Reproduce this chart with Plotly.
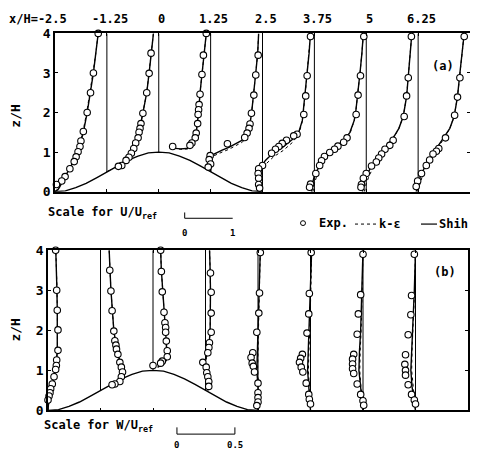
import plotly.graph_objects as go

# Stationen x/H und Beschriftung oben
stations = [-2.5, -1.25, 0, 1.25, 2.5, 3.75, 5, 6.25]
station_labels = ["x/H=-2.5", "-1.25", "0", "1.25", "2.5", "3.75", "5", "6.25"]

# Hügelkontur
hill_x = [-2.5, -2.25, -2.0, -1.75, -1.5, -1.25, -1.0, -0.75, -0.5, -0.25, 0,
          0.25, 0.5, 0.75, 1.0, 1.25, 1.5, 1.75, 2.0, 2.25, 2.5]
hill_z = [0, 0.02, 0.10, 0.21, 0.35, 0.50, 0.65, 0.79, 0.90, 0.98, 1.0,
          0.98, 0.90, 0.79, 0.65, 0.50, 0.35, 0.21, 0.10, 0.02, 0]

# (a) U/Uref - Messpunkte
u_exp_z = [
    [4.0, 3.0, 2.5, 2.0, 1.52, 1.28, 1.14, 1.01, 0.88, 0.76, 0.58, 0.38, 0.27, 0.18],
    [3.5, 2.99, 2.5, 1.98, 1.72, 1.6, 1.5, 1.36, 1.23, 1.09, 0.97, 0.87, 0.79, 0.66, 0.64],
    [4.0, 3.45, 2.96, 2.46, 2.2, 2.07, 1.95, 1.72, 1.48, 1.36, 1.23, 1.17, 1.14],
    [3.45, 2.95, 2.44, 1.98, 1.71, 1.60, 1.48, 1.37, 1.21, 0.91, 0.81, 0.70, 0.62],
    [3.92, 2.93, 2.42, 1.95, 1.45, 1.41, 1.30, 1.22, 1.14, 1.07, 0.97, 0.66, 0.58, 0.46, 0.34, 0.18, 0.09],
    [3.92, 2.93, 2.44, 1.95, 1.36, 1.25, 1.15, 1.07, 0.99, 0.89, 0.78, 0.66, 0.46, 0.19, 0.11],
    [3.92, 2.88, 2.42, 1.90, 1.30, 1.17, 1.07, 0.95, 0.85, 0.75, 0.65, 0.46, 0.34, 0.18, 0.11],
    [3.92, 2.88, 2.39, 1.93, 1.36, 1.09, 1.02, 0.95, 0.80, 0.66, 0.46, 0.27, 0.13],
]
u_exp = [
    [0.90, 0.80, 0.74, 0.67, 0.59, 0.54, 0.52, 0.48, 0.44, 0.40, 0.31, 0.21, 0.14, 0.03],
    [0.92, 0.88, 0.83, 0.75, 0.71, 0.69, 0.67, 0.65, 0.60, 0.56, 0.51, 0.46, 0.40, 0.31, 0.24],
    [0.99, 0.93, 0.90, 0.86, 0.84, 0.83, 0.82, 0.81, 0.78, 0.76, 0.69, 0.65, 0.29],
    [0.99, 0.94, 0.90, 0.85, 0.82, 0.80, 0.76, 0.71, 0.35, -0.01, -0.03, 0.0, -0.05],
    [1.0, 0.93, 0.90, 0.86, 0.72, 0.65, 0.50, 0.41, 0.34, 0.27, 0.19, 0.0, -0.08, -0.09, -0.08, -0.08, -0.06],
    [1.03, 0.96, 0.91, 0.87, 0.68, 0.61, 0.49, 0.42, 0.32, 0.21, 0.15, 0.11, 0.03, -0.08, -0.10],
    [0.94, 0.875, 0.84, 0.79, 0.56, 0.49, 0.39, 0.32, 0.26, 0.21, 0.11, 0.0, -0.06, -0.10, -0.11],
    [0.96, 0.87, 0.82, 0.76, 0.57, 0.43, 0.38, 0.31, 0.24, 0.17, 0.07, -0.01, -0.04],
]

# (a) Shih-Modell
u_shih_z = [
    [0, 0.05, 0.1, 0.2, 0.3, 0.4, 0.6, 0.8, 1.0, 1.25, 1.5, 2.0, 2.5, 3.0, 3.5, 4.0],
    [0.5, 0.55, 0.6, 0.65, 0.7, 0.8, 0.9, 1.0, 1.2, 1.4, 1.6, 1.8, 2.0, 2.5, 3.0, 3.5, 4.0],
    [1.10, 1.08, 1.09, 1.13, 1.2, 1.3, 1.5, 1.75, 2.0, 2.5, 3.0, 3.5, 4.0],
    [0.5, 0.8, 0.92, 0.97, 1.05, 1.12, 1.2, 1.3, 1.4, 1.6, 1.95, 2.45, 3.0, 3.5, 4.0],
    [0.0, 0.2, 0.45, 0.62, 0.79, 0.95, 1.11, 1.32, 1.52, 1.8, 2.46, 3.0, 3.5, 4.0],
    [0, 0.2, 0.4, 0.6, 0.8, 1.0, 1.15, 1.3, 1.5, 1.8, 2.0, 2.5, 3.0, 3.5, 4.0],
    [0, 0.2, 0.4, 0.6, 0.8, 1.0, 1.2, 1.4, 1.6, 1.9, 2.4, 3.0, 3.5, 4.0],
    [0, 0.2, 0.4, 0.6, 0.8, 1.0, 1.2, 1.4, 1.6, 1.9, 2.4, 3.0, 3.5, 4.0],
]
u_shih = [
    [0, 0.06, 0.09, 0.13, 0.17, 0.22, 0.31, 0.41, 0.48, 0.54, 0.59, 0.67, 0.74, 0.80, 0.85, 0.90],
    [0, 0.10, 0.18, 0.25, 0.30, 0.39, 0.46, 0.51, 0.59, 0.65, 0.69, 0.72, 0.75, 0.83, 0.88, 0.92, 0.97],
    [0.30, 0.45, 0.58, 0.65, 0.70, 0.74, 0.78, 0.81, 0.83, 0.86, 0.90, 0.94, 0.99],
    [0, 0, 0.02, 0.10, 0.24, 0.38, 0.52, 0.66, 0.74, 0.80, 0.85, 0.90, 0.94, 0.98, 1.0],
    [-0.06, -0.07, -0.07, -0.03, 0.06, 0.20, 0.41, 0.62, 0.76, 0.83, 0.89, 0.93, 0.97, 1.0],
    [-0.06, -0.04, 0.0, 0.08, 0.17, 0.30, 0.47, 0.62, 0.74, 0.83, 0.86, 0.91, 0.95, 0.99, 1.02],
    [-0.08, -0.05, 0.0, 0.09, 0.20, 0.32, 0.46, 0.58, 0.68, 0.77, 0.84, 0.88, 0.91, 0.95],
    [-0.04, 0.0, 0.05, 0.13, 0.22, 0.33, 0.44, 0.56, 0.66, 0.75, 0.82, 0.87, 0.91, 0.96],
]

# (a) k-epsilon-Modell
u_ke_z = [
    u_shih_z[0],
    u_shih_z[1],
    [1.10, 1.07, 1.08, 1.12, 1.19, 1.3, 1.5, 1.75, 2.0, 2.5, 3.0, 3.5, 4.0],
    [0.5, 0.78, 0.88, 0.93, 1.0, 1.07, 1.15, 1.25, 1.36, 1.58, 1.95, 2.45, 3.0, 3.5, 4.0],
    [0, 0.2, 0.4, 0.55, 0.72, 0.88, 1.04, 1.25, 1.47, 1.78, 2.46, 3.0, 3.5, 4.0],
    u_shih_z[5],
    u_shih_z[6],
    u_shih_z[7],
]
u_ke = [
    [0, 0.05, 0.08, 0.12, 0.16, 0.21, 0.30, 0.40, 0.47, 0.53, 0.58, 0.66, 0.73, 0.79, 0.85, 0.90],
    [0, 0.09, 0.17, 0.24, 0.29, 0.38, 0.45, 0.50, 0.58, 0.64, 0.68, 0.72, 0.75, 0.83, 0.88, 0.92, 0.97],
    [0.30, 0.46, 0.60, 0.67, 0.71, 0.75, 0.78, 0.81, 0.83, 0.86, 0.90, 0.94, 0.99],
    [0, 0, 0.02, 0.10, 0.24, 0.38, 0.52, 0.66, 0.74, 0.80, 0.85, 0.90, 0.94, 0.98, 1.0],
    [-0.04, -0.05, -0.04, 0.0, 0.09, 0.23, 0.43, 0.63, 0.76, 0.83, 0.89, 0.93, 0.97, 1.0],
    [-0.03, 0.0, 0.05, 0.12, 0.22, 0.34, 0.50, 0.64, 0.75, 0.83, 0.86, 0.91, 0.95, 0.99, 1.02],
    [-0.04, 0.0, 0.06, 0.14, 0.25, 0.36, 0.48, 0.59, 0.68, 0.77, 0.84, 0.88, 0.91, 0.95],
    [-0.01, 0.04, 0.09, 0.17, 0.26, 0.36, 0.46, 0.57, 0.66, 0.75, 0.82, 0.87, 0.91, 0.96],
]

# (b) W/Uref - Messpunkte
w_exp_z = [
    [4.0, 3.0, 2.5, 2.01, 1.5, 1.26, 1.12, 1.02, 0.84, 0.66, 0.54, 0.44, 0.36, 0.26],
    [3.5, 2.98, 2.49, 1.98, 1.74, 1.63, 1.53, 1.4, 1.2, 1.08, 0.96, 0.84, 0.72, 0.66, 0.64],
    [4.0, 3.47, 2.96, 2.45, 2.19, 2.07, 1.95, 1.73, 1.49, 1.34, 1.23, 1.18, 1.12],
    [3.43, 2.95, 2.43, 1.95, 1.69, 1.57, 1.44, 1.2, 1.08, 0.94, 0.84, 0.72, 0.6],
    [3.94, 2.93, 2.43, 1.95, 1.44, 1.32, 1.18, 1.1, 0.96, 0.68, 0.44, 0.32, 0.21, 0.12],
    [3.94, 2.92, 2.41, 1.93, 1.4, 1.3, 1.2, 1.08, 0.96, 0.68, 0.4, 0.28, 0.16],
    [3.9, 2.89, 2.41, 1.9, 1.4, 1.28, 1.16, 1.04, 0.92, 0.66, 0.4, 0.24, 0.13],
    [3.9, 2.87, 2.39, 1.89, 1.39, 1.15, 1.0, 0.88, 0.64, 0.4, 0.26, 0.16],
]
w_exp = [
    [0.066, 0.075, 0.08, 0.086, 0.086, 0.075, 0.072, 0.066, 0.052, 0.037, 0.023, 0.017, 0.009, 0.0],
    [0.08, 0.09, 0.10, 0.115, 0.124, 0.133, 0.138, 0.15, 0.167, 0.18, 0.19, 0.18, 0.167, 0.124, 0.10],
    [0.066, 0.072, 0.08, 0.095, 0.103, 0.109, 0.109, 0.115, 0.123, 0.123, 0.08, 0.066, 0.0],
    [0.043, 0.049, 0.049, 0.049, 0.034, 0.029, 0.02, -0.023, 0.006, 0.011, 0.02, 0.028, 0.028],
    [0.02, 0.013, 0.007, -0.01, -0.045, -0.06, -0.05, -0.04, -0.03, 0.0, 0.0, 0.0, 0.0, -0.01],
    [0.006, -0.01, -0.015, -0.03, -0.07, -0.085, -0.095, -0.08, -0.066, -0.037, -0.015, -0.01, 0.0],
    [0.0, -0.02, -0.04, -0.05, -0.08, -0.09, -0.09, -0.09, -0.08, -0.05, -0.02, 0.0, 0.006],
    [-0.01, -0.034, -0.04, -0.063, -0.086, -0.092, -0.086, -0.086, -0.063, -0.034, -0.01, 0.0],
]

# (b) Shih-Modell
w_shih_z = [
    [0, 0.2, 0.4, 0.6, 0.8, 1.0, 1.5, 2.0, 2.5, 3.0, 3.5, 4.0],
    [0.62, 0.7, 0.8, 0.95, 1.1, 1.3, 1.6, 2.0, 2.5, 3.0, 3.5, 4.0],
    [1.08, 1.15, 1.25, 1.4, 1.7, 2.0, 2.5, 3.0, 3.5, 4.0],
    [0.5, 0.7, 0.9, 1.05, 1.2, 1.35, 1.6, 2.0, 2.5, 3.0, 3.5, 4.0],
    [0, 0.3, 0.6, 1.0, 1.5, 2.0, 3.0, 4.0],
    [0, 0.3, 0.6, 1.0, 1.5, 2.0, 3.0, 4.0],
    [0, 0.3, 0.6, 1.0, 1.5, 2.0, 3.0, 4.0],
    [0, 0.3, 0.6, 1.0, 1.5, 2.0, 3.0, 4.0],
]
w_shih = [
    [0.0, 0.005, 0.02, 0.035, 0.05, 0.065, 0.08, 0.083, 0.08, 0.077, 0.072, 0.067],
    [0.10, 0.16, 0.185, 0.19, 0.18, 0.16, 0.135, 0.115, 0.10, 0.09, 0.082, 0.075],
    [0.04, 0.09, 0.115, 0.12, 0.115, 0.108, 0.095, 0.08, 0.072, 0.066],
    [0.02, 0.025, 0.015, 0.0, -0.01, 0.01, 0.03, 0.04, 0.043, 0.043, 0.04, 0.035],
    [0.0, 0.005, 0.0, -0.01, -0.005, 0.0, 0.01, 0.02],
    [0.0, -0.005, -0.015, -0.025, -0.02, -0.01, 0.0, 0.01],
    [0.0, -0.01, -0.025, -0.035, -0.03, -0.02, -0.01, 0.0],
    [0.0, -0.015, -0.03, -0.04, -0.035, -0.025, -0.01, 0.0],
]
# (b) k-epsilon-Modell
w_ke = [
    [0.0, 0.008, 0.024, 0.04, 0.055, 0.068, 0.082, 0.084, 0.081, 0.078, 0.073, 0.068],
    [0.10, 0.155, 0.18, 0.186, 0.176, 0.158, 0.134, 0.115, 0.10, 0.09, 0.082, 0.075],
    [0.04, 0.088, 0.112, 0.118, 0.114, 0.107, 0.095, 0.08, 0.072, 0.066],
    [0.02, 0.028, 0.02, 0.006, -0.004, 0.014, 0.032, 0.041, 0.043, 0.043, 0.04, 0.035],
    [0.0, 0.01, 0.006, -0.004, 0.0, 0.004, 0.012, 0.02],
    [0.0, 0.0, -0.01, -0.018, -0.014, -0.006, 0.003, 0.01],
    [0.0, -0.005, -0.018, -0.028, -0.024, -0.016, -0.007, 0.0],
    [0.0, -0.01, -0.024, -0.033, -0.03, -0.021, -0.008, 0.0],
]

U_SCALE = 1.157   # x/H pro Einheit U/Uref
W_SCALE = 2.76    # x/H pro Einheit W/Uref

W_PX, H_PX = 478, 468
OFF = 8  # Seitenrand des Browsers
FONT = "DejaVu Sans Mono, Liberation Mono, monospace"


# Bildschirm-Pixel -> Papier-Koordinaten
def px(x):
    return (x - OFF) / W_PX


def py(y):
    return 1 - (y - OFF) / H_PX


fig = go.Figure()


def add_panel(xa, ya, prof_z, prof_v, ke_z, ke_v, exp_z, exp_v, scale):
    for i, s in enumerate(stations):
        fig.add_trace(go.Scatter(x=[s + scale * v for v in ke_v[i]], y=ke_z[i], mode="lines",
                                 line=dict(color="black", width=1, dash="dot"),
                                 xaxis=xa, yaxis=ya, showlegend=False))
        fig.add_trace(go.Scatter(x=[s + scale * v for v in prof_v[i]], y=prof_z[i], mode="lines",
                                 line=dict(color="black", width=1.4),
                                 xaxis=xa, yaxis=ya, showlegend=False))
    # Hügel mit weißer Füllung
    fig.add_trace(go.Scatter(x=hill_x, y=hill_z, mode="lines", fill="tozeroy",
                             fillcolor="white", line=dict(color="black", width=1.4),
                             xaxis=xa, yaxis=ya, showlegend=False))
    for i, s in enumerate(stations):
        fig.add_trace(go.Scatter(x=[s + scale * v for v in exp_v[i]], y=exp_z[i], mode="markers",
                                 marker=dict(symbol="circle", size=6.5, color="white",
                                             line=dict(color="black", width=1.1)),
                                 xaxis=xa, yaxis=ya, showlegend=False, cliponaxis=False))


add_panel("x", "y", u_shih_z, u_shih, u_ke_z, u_ke, u_exp_z, u_exp, U_SCALE)
add_panel("x2", "y2", w_shih_z, w_shih, w_shih_z, w_ke, w_exp_z, w_exp, W_SCALE)

shapes = []
for xr, yr in [("x", "y"), ("x2", "y2")]:
    for s in stations[1:]:
        shapes.append(dict(type="line", xref=xr, yref=yr, x0=s, x1=s, y0=0, y1=4,
                           line=dict(color="black", width=1), layer="below"))

# Maßstabsbalken
shapes += [
    dict(type="line", xref="x", yref="paper", x0=0.625, x1=0.625, y0=py(212), y1=py(218),
         line=dict(color="black", width=1)),
    dict(type="line", xref="x", yref="paper", x0=0.625, x1=0.625 + U_SCALE, y0=py(218), y1=py(218),
         line=dict(color="black", width=1)),
    dict(type="line", xref="x2", yref="paper", x0=0.57, x1=0.57, y0=py(434), y1=py(441),
         line=dict(color="black", width=1)),
    dict(type="line", xref="x2", yref="paper", x0=0.57 + 0.5 * W_SCALE, x1=0.57 + 0.5 * W_SCALE,
         y0=py(434), y1=py(441), line=dict(color="black", width=1)),
    dict(type="line", xref="x2", yref="paper", x0=0.57, x1=0.57 + 0.5 * W_SCALE, y0=py(441), y1=py(441),
         line=dict(color="black", width=1)),
]
# Legende
shapes += [
    dict(type="circle", xref="paper", yref="paper", x0=px(300.5), x1=px(305.5), y0=py(220.5), y1=py(225.5),
         line=dict(color="black", width=1)),
    dict(type="line", xref="paper", yref="paper", x0=px(355), x1=px(377), y0=py(224), y1=py(224),
         line=dict(color="black", width=1, dash="dot")),
    dict(type="line", xref="paper", yref="paper", x0=px(421), x1=px(437), y0=py(224), y1=py(224),
         line=dict(color="black", width=1.2)),
]

bold = dict(family=FONT, size=13, color="black", weight="bold")
mid = dict(family=FONT, size=12, color="black", weight="bold")
small = dict(family=FONT, size=9, color="black", weight="bold")


def note(x, y, text, font, xanchor="center", xref="paper", **kw):
    return dict(x=x, y=y, xref=xref, yref="paper", text=text, showarrow=False,
                xanchor=xanchor, yanchor="middle", font=font, **kw)


ann = []
for s, lab in zip(stations, station_labels):
    if s == stations[0]:
        ann.append(note(px(69), py(12), lab, mid, xanchor="right"))
    else:
        ann.append(note(s, py(12), lab, mid, xref="x", xshift=3))
ann += [
    note(px(443), py(61), "(a)", mid),
    note(px(445), py(273), "(b)", mid),
    note(px(16), py(112), "z/H", bold, textangle=-90),
    note(px(16), py(333), "z/H", bold, textangle=-90),
    note(px(46), py(213), "Scale for U/U<sub>ref</sub>", mid, xanchor="left"),
    note(px(42), py(433), "Scale for W/U<sub>ref</sub>", mid, xanchor="left"),
    note(0.625, py(233), "0", small, xref="x"),
    note(0.625 + U_SCALE, py(233), "1", small, xref="x"),
    note(0.57, py(452), "0", small, xref="x2"),
    note(0.57 + 0.5 * W_SCALE, py(452), "0.5", small, xref="x2"),
    note(px(317), py(223), "Exp.", mid, xanchor="left"),
    note(px(377), py(224), "k-ε", mid, xanchor="left"),
    note(px(437), py(224), "Shih", mid, xanchor="left"),
]

xax = dict(range=[-2.5, 7.5], showgrid=False, zeroline=False, showline=True, linecolor="black",
           linewidth=1.6, mirror="ticks", ticks="inside", ticklen=3, tickcolor="black",
           tickvals=stations + [7.5], showticklabels=False)
yax = dict(range=[0, 4], showgrid=False, zeroline=False, showline=True, linecolor="black",
           linewidth=1.6, mirror="ticks", ticks="inside", ticklen=3, tickcolor="black",
           tickvals=[0, 1, 2, 3, 4], tickfont=bold)

fig.update_layout(
    width=W_PX, height=H_PX, margin=dict(l=0, r=0, t=0, b=0),
    paper_bgcolor="white", plot_bgcolor="white",
    xaxis=dict(xax, domain=[px(55), px(470)], anchor="y"),
    yaxis=dict(yax, domain=[py(190.5), py(27)], anchor="x"),
    xaxis2=dict(xax, domain=[px(48), px(468)], anchor="y2"),
    yaxis2=dict(yax, domain=[py(416.5), py(251)], anchor="x2"),
    shapes=shapes, annotations=ann, showlegend=False,
)

fig.write_html("out.html")
